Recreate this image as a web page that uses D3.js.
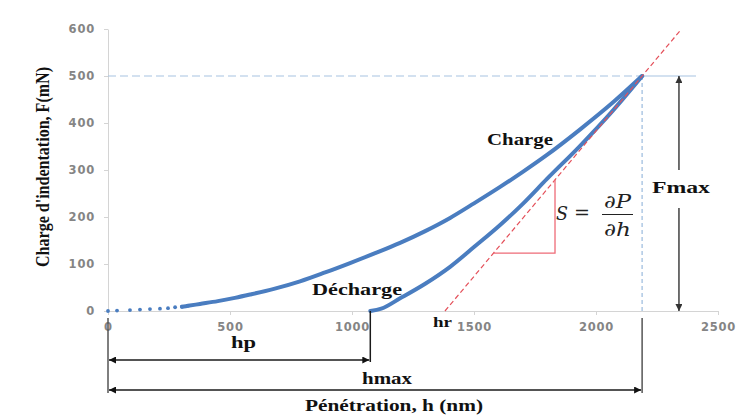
<!DOCTYPE html>
<html><head><meta charset="utf-8">
<script src="https://cdn.jsdelivr.net/npm/d3@7"></script>
<style>body{margin:0;background:#fff}svg{display:block}</style>
</head><body><svg id="c" width="741" height="419"></svg>
<script>
// ---- data ----
const loadH = [0, 37, 90, 131, 172, 213, 246, 275, 303, 328, 377, 450, 520, 582, 680, 787, 890, 992, 1100, 1197, 1300, 1402, 1500, 1607, 1700, 1799, 1934, 2070, 2189];
const loadF = [0, 1, 2, 3, 4, 5, 6, 8, 9, 11, 15, 21, 28, 35, 47, 63, 82, 102, 124, 145, 170, 198, 229, 264, 296, 332, 386, 444, 500];
const unloadH = [1075, 1120, 1197, 1300, 1402, 1500, 1607, 1700, 1799, 1934, 2070, 2189];
const unloadF = [0, 5, 27, 58, 94, 136, 183, 228, 281, 351, 427, 500];
const yTicks = [0, 100, 200, 300, 400, 500, 600];
const xTicks = [0, 500, 1000, 1500, 2000, 2500];
const hmax = 2189, Fmax = 500, hp = 1075, hr = 1381;
const tangentEnd = 2344;          // where the red tangent stops
const triH = [1580, 1832], triF = [123, 279];   // slope triangle legs
const fmaxArrowH = 2340;

const svg = d3.select("#c");
const x = d3.scaleLinear([0, 2500], [108, 718]);
const y = d3.scaleLinear([0, 600], [311, 29]);

// axes
const gy = svg.append("g").attr("transform", `translate(${x(0)},0)`)
  .call(d3.axisLeft(y).tickValues(yTicks).tickFormat(d3.format("d")).tickSize(4).tickSizeOuter(0).tickPadding(9));
const gx = svg.append("g").attr("transform", `translate(0,${y(0)})`)
  .call(d3.axisBottom(x).tickValues(xTicks).tickFormat(d3.format("d")).tickSize(4).tickSizeOuter(0).tickPadding(8));
[gy, gx].forEach(g => {
  g.select(".domain").attr("stroke", "#d4d4d4").attr("stroke-width", 1);
  g.selectAll(".tick line").attr("stroke", "#d4d4d4");
  g.selectAll(".tick text").attr("fill", "#858585")
    .style("font-family", "'DejaVu Sans'").style("font-weight", "bold")
    .style("font-size", "11.5px").style("letter-spacing", "0.8px");
});

// reference dashed lines (light blue)
const lb = "#a8c4e2";
svg.append("line").attr("x1", x(0)).attr("x2", x(hmax)).attr("y1", y(Fmax)).attr("y2", y(Fmax))
  .attr("stroke", lb).attr("stroke-width", 1.2).attr("stroke-dasharray", "8,4");
svg.append("line").attr("x1", x(hmax)).attr("x2", x(2410)).attr("y1", y(Fmax)).attr("y2", y(Fmax))
  .attr("stroke", lb).attr("stroke-width", 1.2);
svg.append("line").attr("x1", x(hmax)).attr("x2", x(hmax)).attr("y1", y(Fmax)).attr("y2", y(0))
  .attr("stroke", lb).attr("stroke-width", 1.4).attr("stroke-dasharray", "4,3");

// curves
const blue = "#4a7dc0";
const line = d3.line().x(d => x(d[0])).y(d => y(d[1])).curve(d3.curveMonotoneX);
const load = loadH.map((h, i) => [h, loadF[i]]);
const unload = unloadH.map((h, i) => [h, unloadF[i]]);
svg.append("path").datum(load.filter(d => d[0] >= 303)).attr("d", line)
  .attr("fill", "none").attr("stroke", blue).attr("stroke-width", 4).attr("stroke-linecap", "round");
svg.selectAll("circle.m").data(load.filter(d => d[0] < 330)).join("circle").attr("class", "m")
  .attr("cx", d => x(d[0])).attr("cy", d => y(d[1])).attr("r", 1.9).attr("fill", blue);
svg.append("path").datum(unload).attr("d", line)
  .attr("fill", "none").attr("stroke", blue).attr("stroke-width", 4).attr("stroke-linecap", "round");

// red tangent & slope triangle
svg.append("line").attr("x1", x(hr)).attr("y1", y(0))
  .attr("x2", x(tangentEnd)).attr("y2", y(Fmax * (tangentEnd - hr) / (hmax - hr)))
  .attr("stroke", "#e4505a").attr("stroke-width", 1.2).attr("stroke-dasharray", "5,3");
svg.append("polyline")
  .attr("points", `${x(triH[0])},${y(triF[0])} ${x(triH[1])},${y(triF[0])} ${x(triH[1])},${y(triF[1])}`)
  .attr("fill", "none").attr("stroke", "#ee6b77").attr("stroke-width", 1.3);

// arrow markers
const defs = svg.append("defs");
function mk(id, col) {
  defs.append("marker").attr("id", id).attr("viewBox", "0 0 10 10").attr("refX", 10).attr("refY", 5)
    .attr("markerWidth", 9).attr("markerHeight", 7).attr("markerUnits", "userSpaceOnUse")
    .attr("orient", "auto-start-reverse")
    .append("path").attr("d", "M0,0L10,5L0,10z").attr("fill", col);
}
mk("ab", "#111"); mk("ag", "#333");

// Fmax arrow (broken around label)
svg.append("line").attr("x1", x(fmaxArrowH)).attr("x2", x(fmaxArrowH)).attr("y1", 170).attr("y2", y(Fmax))
  .attr("stroke", "#333").attr("stroke-width", 1.4).attr("marker-end", "url(#ag)");
svg.append("line").attr("x1", x(fmaxArrowH)).attr("x2", x(fmaxArrowH)).attr("y1", 208).attr("y2", y(0))
  .attr("stroke", "#333").attr("stroke-width", 1.4).attr("marker-end", "url(#ag)");

// dimension lines below axis
const dk = "#1a1a1a";
svg.append("line").attr("x1", x(0)).attr("x2", x(0)).attr("y1", 318).attr("y2", 393).attr("stroke", "#555").attr("stroke-width", 1.5);
svg.append("line").attr("x1", x(hp)).attr("x2", x(hp)).attr("y1", y(0)).attr("y2", 362).attr("stroke", dk).attr("stroke-width", 1.5);
svg.append("line").attr("x1", x(hmax)).attr("x2", x(hmax)).attr("y1", 318).attr("y2", 393).attr("stroke", "#555").attr("stroke-width", 1.5);
svg.append("line").attr("x1", x(0) + 1).attr("x2", x(hp) - 1).attr("y1", 360).attr("y2", 360)
  .attr("stroke", dk).attr("stroke-width", 1.6).attr("marker-start", "url(#ab)").attr("marker-end", "url(#ab)");
svg.append("line").attr("x1", x(0) + 1).attr("x2", x(hmax) - 1).attr("y1", 390).attr("y2", 390)
  .attr("stroke", dk).attr("stroke-width", 1.6).attr("marker-start", "url(#ab)").attr("marker-end", "url(#ab)");

// text labels (the picture is horizontally stretched, so glyphs are widened with textLength)
const serif = "'Liberation Serif', 'Times New Roman', serif";
function lab(t, x0, by, size, len) {
  return svg.append("text").attr("x", x0).attr("y", by).attr("text-anchor", "start")
    .attr("textLength", len).attr("lengthAdjust", "spacingAndGlyphs")
    .style("font-family", serif).style("font-weight", "bold").style("font-size", size + "px")
    .attr("fill", "#111").text(t);
}
lab("Charge", 487, 145, 16, 66);
lab("Décharge", 312, 295, 16, 90);
lab("hr", 433, 327, 15, 19);
lab("Fmax", 652, 193, 16, 58);
lab("hp", 231, 348, 16, 25);
lab("hmax", 362, 384, 16, 50);
lab("Pénétration, h (nm)", 305, 411, 16, 178);
svg.append("text").attr("transform", "translate(49,167) rotate(-90) scale(1,1.25)").attr("text-anchor", "middle")
  .attr("textLength", 200).attr("lengthAdjust", "spacingAndGlyphs")
  .style("font-family", serif).style("font-weight", "bold").style("font-size", "15px")
  .attr("fill", "#111").text("Charge d'indentation, F(mN)");

// formula S = ∂P/∂h
const mf = "'DejaVu Serif', serif";
function mt(t, x0, by, len, italic) {
  return svg.append("text").attr("x", x0).attr("y", by).attr("text-anchor", "start")
    .attr("textLength", len).attr("lengthAdjust", "spacingAndGlyphs")
    .style("font-family", mf).style("font-style", italic ? "italic" : "normal")
    .style("font-size", "18px").attr("fill", "#222").text(t);
}
mt("S", 556, 220, 12, true);
mt("=", 574, 219, 16, false);
mt("∂P", 604, 208, 27, true);
mt("∂h", 604, 236, 27, true);
svg.append("line").attr("x1", 602).attr("x2", 633).attr("y1", 214.5).attr("y2", 214.5).attr("stroke", "#222").attr("stroke-width", 1);
</script></body></html>
